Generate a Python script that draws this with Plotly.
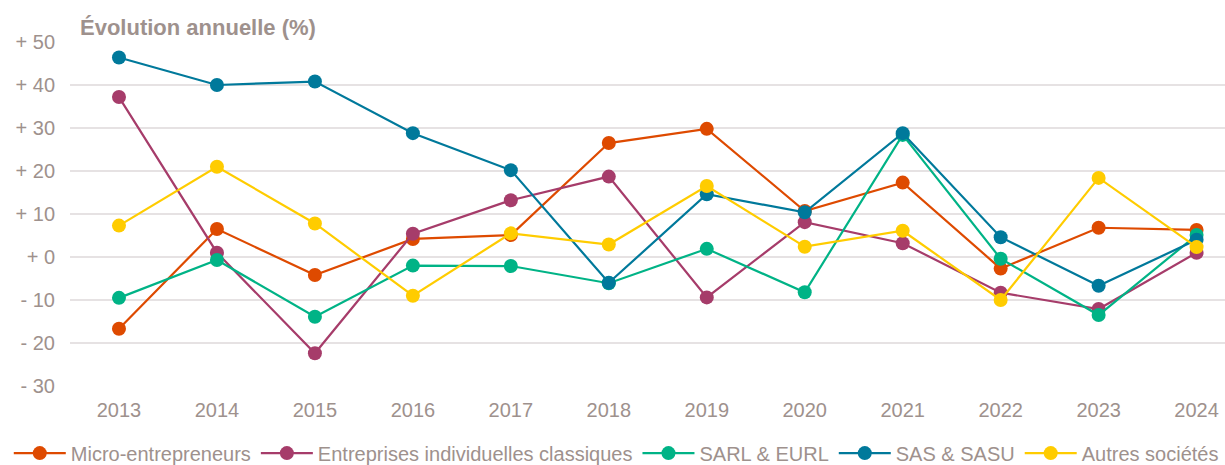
import plotly.graph_objects as go

years = [2013, 2014, 2015, 2016, 2017, 2018, 2019, 2020, 2021, 2022, 2023, 2024]
micro = [-16.7, 6.5, -4.2, 4.2, 5.1, 26.5, 29.8, 10.7, 17.3, -2.7, 6.8, 6.3]
ei_classiques = [37.2, 1.0, -22.4, 5.4, 13.2, 18.7, -9.4, 8.1, 3.2, -8.3, -12.1, 1.0]
sarl_eurl = [-9.5, -0.7, -13.9, -2.0, -2.1, -6.1, 1.9, -8.2, 28.4, -0.4, -13.5, 5.1]
sas_sasu = [46.4, 40.0, 40.8, 28.8, 20.2, -6.0, 14.6, 10.4, 28.8, 4.6, -6.7, 4.0]
autres = [7.3, 21.0, 7.8, -9.0, 5.5, 2.9, 16.5, 2.4, 6.1, -10.0, 18.4, 2.3]

series_names = ["Micro-entrepreneurs", "Entreprises individuelles classiques",
                "SARL & EURL", "SAS & SASU", "Autres sociétés"]
series_values = [micro, ei_classiques, sarl_eurl, sas_sasu, autres]
colors = ["#DE4A00", "#A63C6A", "#00B386", "#00799B", "#FFCC00"]

y_tickvals = [-30, -20, -10, 0, 10, 20, 30, 40, 50]
y_ticktext = ["- 30", "- 20", "- 10", "+ 0", "+ 10", "+ 20", "+ 30", "+ 40", "+ 50"]

text_color = "#9E918D"
font_family = "Liberation Sans, Arial, sans-serif"

fig = go.Figure()
for name, vals, col in zip(series_names, series_values, colors):
    fig.add_trace(go.Scatter(
        x=years, y=vals, name=name, mode="lines+markers",
        line=dict(color=col, width=2.2),
        marker=dict(color=col, size=14),
    ))

fig.add_shape(type="line", xref="paper", yref="y", x0=0, x1=1, y0=0, y1=0,
              line=dict(color="#5E5253", width=1.5, dash="dash"), layer="below")

fig.update_layout(
    width=1225, height=465,
    margin=dict(l=70, r=0, t=42, b=79, autoexpand=False),
    paper_bgcolor="white", plot_bgcolor="white",
    font=dict(family=font_family, size=20, color=text_color),
    showlegend=True,
    legend=dict(orientation="h", x=-0.053, xanchor="left",
                y=-0.195, yanchor="middle",
                font=dict(size=20, color=text_color), itemwidth=52,
                tracegroupgap=0),
    xaxis=dict(
        range=[2012.5, 2024.29], tickvals=years, ticktext=[str(y) for y in years],
        showgrid=False, zeroline=False, showline=False, ticks="",
        tickfont=dict(size=20, color=text_color), ticklabelstandoff=10,
    ),
    yaxis=dict(
        range=[-30, 50], tickvals=y_tickvals, ticktext=y_ticktext,
        showgrid=True, gridcolor="#E6E2E3", gridwidth=1.5, zeroline=False,
        ticks="", tickfont=dict(size=20, color=text_color), ticklabelstandoff=14,
    ),
    annotations=[dict(
        text="<b>Évolution annuelle (%)</b>", xref="paper", yref="paper",
        x=0.007, y=1.0436, xanchor="left", yanchor="middle", showarrow=False,
        font=dict(size=22, color=text_color, family=font_family),
    )],
)

fig.write_html("out.html", config={"displayModeBar": False},
               post_script="document.body.style.margin='0px';")
